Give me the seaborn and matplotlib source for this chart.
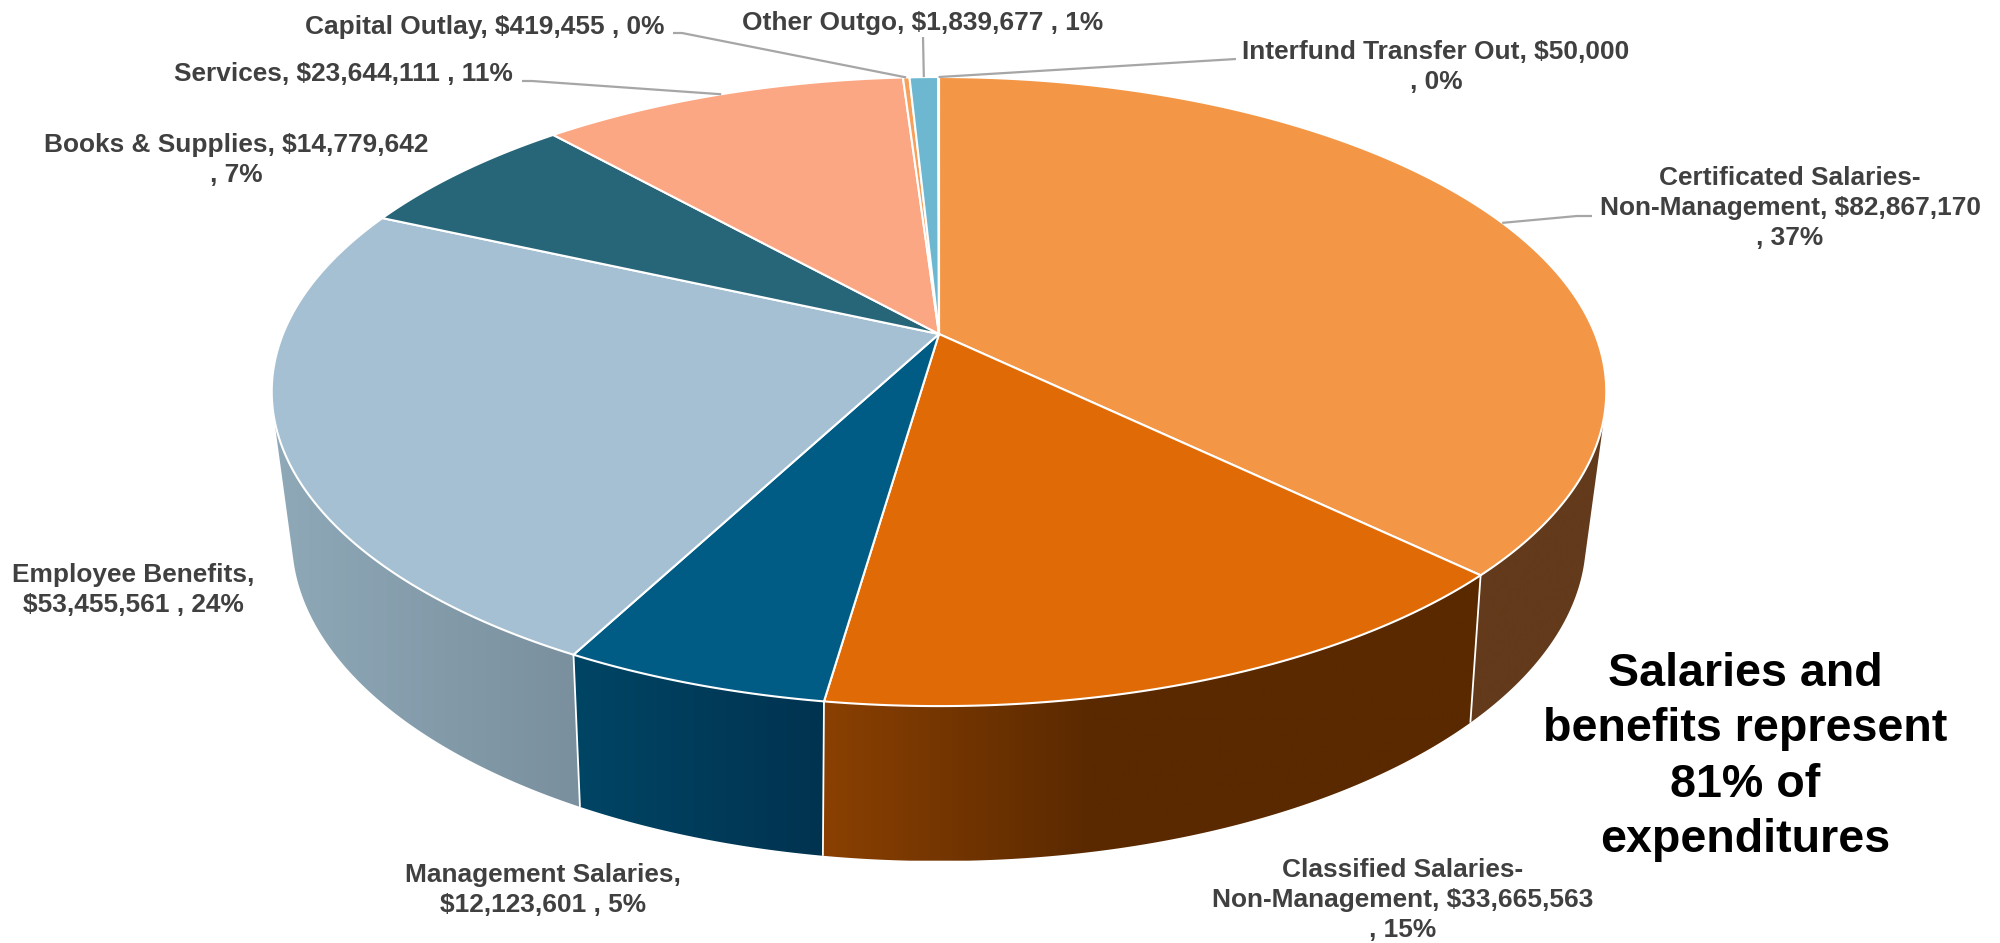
import numpy as np
import matplotlib
matplotlib.use("Agg")
import matplotlib.pyplot as plt
from matplotlib.patches import Polygon
from matplotlib.colors import LinearSegmentedColormap
import seaborn as sns

# Expenditure categories, clockwise from twelve o'clock
amounts = [82867170, 33665563, 12123601, 53455561, 14779642,
           23644111, 419455, 1839677, 50000]
label_formats = [
    "Certificated Salaries-\nNon-Management, {a}\n, {p}",
    "Classified Salaries-\nNon-Management, {a}\n, {p}",
    "Management Salaries,\n{a} , {p}",
    "Employee Benefits,\n{a} , {p}",
    "Books & Supplies, {a}\n, {p}",
    "Services, {a} , {p}",
    "Capital Outlay, {a} , {p}",
    "Other Outgo, {a} , {p}",
    "Interfund Transfer Out, {a}\n, {p}",
]
top_colors = ["#f39646", "#e06a06", "#005c85", "#a5c0d2", "#276678",
              "#fca784", "#f6a05c", "#6db8d0", "#f39646"]
side_left = ["#633a1b", "#8a4002", "#004565", "#8fa9b8", "#1c4a58",
             "#b67a60", "#b27542", "#4f8596", "#b27542"]
side_right = ["#633a1b", "#5a2900", "#003350", "#7a909e", "#1c4a58",
              "#b67a60", "#b27542", "#4f8596", "#b27542"]
side_ramp_px = [200, 270, 250, 300, 200, 200, 200, 200, 200]
label_centers = [(1790, 208), (1403, 900), (543, 890), (133, 590), (236, 160),
                 (343, 74), (485, 27), (923, 23), (1436, 67)]
leader_elbows = [[(1577, 216), (1592, 216)], None, None, None, None,
                 [(532, 81), (522, 81)], [(682, 33), (673, 33)],
                 [(923, 37)], [(1236, 59)]]
note_text = "Salaries and\nbenefits represent\n81% of\nexpenditures"

# Walls that face the viewer are painted back to front
wall_order = [3, 0, 2, 1, 4, 5, 6, 7, 8]

# Perspective of the top face, in figure pixels
CX, CY = 939, 334
A, B, K = 656, 304, 0.183
# Lower rim: vertical perspective, then the ellipse it lies on
LOW_C, LOW_B, LOW_K = 459.5, 339, 0.155
RIM_YC, RIM_A, RIM_B = 539, 647, 322


def top_xy(theta):
    """Project clockwise angles on the disc to its top face."""
    X, Y = np.sin(theta), np.cos(theta)
    d = 1 + K * Y
    return CX + A * X / d, CY - B * Y / d


def bottom_xy(theta):
    """Project clockwise angles on the disc to its lower rim."""
    X, Y = np.sin(theta), np.cos(theta)
    y = LOW_C - LOW_B * Y / (1 + LOW_K * Y)
    y = np.clip(y, RIM_YC - RIM_B, RIM_YC + RIM_B)
    half = RIM_A * np.sqrt(np.maximum(1 - ((y - RIM_YC) / RIM_B) ** 2, 0))
    return CX + np.sign(X) * half, y


def convex_hull(points):
    """Monotone-chain hull, so a wall's outline runs straight between the rims."""
    pts = sorted(map(tuple, points))

    def half(seq):
        out = []
        for p in seq:
            while len(out) > 1 and ((out[-1][0] - out[-2][0]) * (p[1] - out[-2][1])
                                    - (out[-1][1] - out[-2][1]) * (p[0] - out[-2][0])) <= 0:
                out.pop()
            out.append(p)
        return out[:-1]

    return np.array(half(pts) + half(pts[::-1]))


sns.set_theme(style="white")
plt.rcParams["font.family"] = ["Liberation Sans", "DejaVu Sans"]

fig = plt.figure(figsize=(20, 9.43), dpi=100)
ax = fig.add_axes([0, 0, 1, 1])

fractions = np.array(amounts, dtype=float) / np.sum(amounts)
edges = np.concatenate([[0], np.cumsum(fractions)]) * 2 * np.pi

# Side wall: each slice is shaded left to right between the two rims
for z, i in enumerate(wall_order):
    th = np.linspace(edges[i], edges[i + 1], 200)
    tx, ty = top_xy(th)
    bx, by = bottom_xy(th)
    raw = np.vstack([np.c_[tx, ty], np.c_[bx, by]])
    x0, x1 = raw[:, 0].min(), raw[:, 0].max()
    if x1 - x0 < 1:
        continue
    outline = convex_hull(raw)
    poly = Polygon(outline, closed=True, facecolor="none", edgecolor="none")
    ax.add_patch(poly)
    cmap = LinearSegmentedColormap.from_list("wall", [side_left[i], side_right[i]])
    ramp = np.clip((np.linspace(x0, x1, 512) - x0) / side_ramp_px[i], 0, 1)
    im = ax.imshow(ramp[None, :], extent=(x0, x1, raw[:, 1].max(), raw[:, 1].min()),
                   cmap=cmap, vmin=0, vmax=1, aspect="auto", zorder=1 + z * 0.01)
    im.set_clip_path(poly)

# White seams between the walls that face the viewer
for t in edges:
    if np.cos(t) < 0:
        sx0, sy0 = top_xy(t)
        sx1, sy1 = bottom_xy(t)
        ax.plot([sx0, sx1], [sy0, sy1], color="white", lw=1.3, zorder=2,
                solid_capstyle="butt")

ax.set_xlim(0, 2000)
ax.set_ylim(943, 0)
ax.set_axis_off()

# Top face
for i in range(len(amounts)):
    th = np.linspace(edges[i], edges[i + 1], 200)
    tx, ty = top_xy(th)
    pts = np.vstack([[CX, CY], np.c_[tx, ty]])
    ax.add_patch(Polygon(pts, closed=True, facecolor=top_colors[i],
                         edgecolor="white", lw=1.5, joinstyle="round", zorder=3))

# Leader lines run from the middle of a slice's rim to its label
for i, elbow in enumerate(leader_elbows):
    if elbow is None:
        continue
    mx, my = top_xy((edges[i] + edges[i + 1]) / 2)
    xs = [mx] + [p[0] for p in elbow]
    ys = [my] + [p[1] for p in elbow]
    ax.plot(xs, ys, color="#a6a6a6", lw=1.6, zorder=4, solid_capstyle="butt")

# Slice labels
for i, fmt in enumerate(label_formats):
    text = fmt.format(a=f"${amounts[i]:,}", p=f"{fractions[i] * 100:.0f}%")
    ax.text(*label_centers[i], text, ha="center", va="center", fontsize=18.9,
            fontweight="bold", color="#404040", linespacing=1.33, zorder=5)

ax.text(1745, 757, note_text, ha="center", va="center", fontsize=33.6,
        fontweight="bold", color="black", linespacing=1.34, zorder=5)

fig.savefig("out.png", dpi=100, facecolor="white")
